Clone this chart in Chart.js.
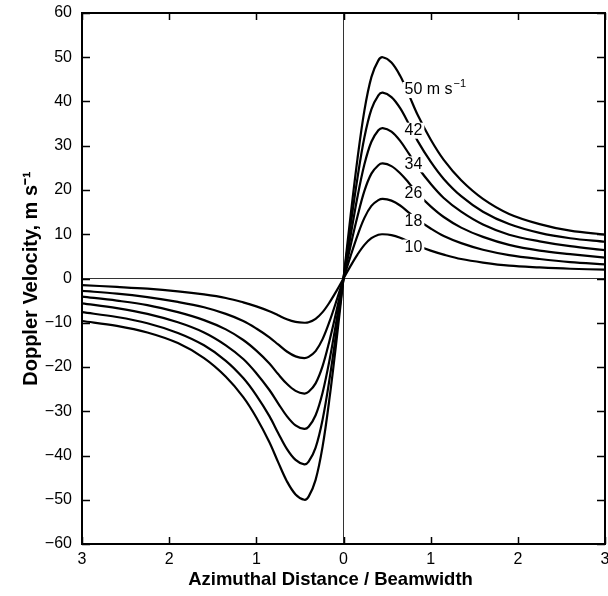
<!DOCTYPE html>
<html>
<head>
<meta charset="utf-8">
<script src="https://cdn.jsdelivr.net/npm/chart.js@4/dist/chart.umd.min.js"></script>
<style>
  html, body { margin: 0; background: #fff; }
</style>
</head>
<body>
<canvas id="chart" width="608" height="596"></canvas>
<script>
// azimuthal distance (beamwidths), same grid for every curve
const xs = [-3, -2.6, -2.25, -1.9, -1.6, -1.35, -1.15, -1, -0.85, -0.75, -0.65, -0.55, -0.45, -0.4, -0.32, -0.24, -0.16, -0.08,
  0, 0.08, 0.16, 0.24, 0.32, 0.4, 0.45, 0.55, 0.65, 0.75, 0.85, 1, 1.15, 1.35, 1.6, 1.9, 2.25, 2.6, 3]

// doppler velocity, one array per curve
const v50 = [-9.6, -10.7, -12.2, -14.6, -18, -22.2, -26.8, -31.4, -37, -41.5, -45.8, -48.8, -50, -49.3, -45.5, -38, -27, -14,
  0, 14, 27, 38, 45.5, 49.3, 50, 48.8, 45.8, 41.5, 37, 31.4, 26.8, 22.2, 18, 14.6, 12.3, 10.8, 9.9]
const v42 = [-7.6, -8.7, -10.1, -12.3, -15.1, -18.6, -22.5, -26.4, -31.1, -34.9, -38.5, -41, -42, -41.4, -38.2, -31.9, -22.7, -11.8,
  0, 11.8, 22.7, 31.9, 38.2, 41.4, 42, 41, 38.5, 34.9, 31.1, 26.4, 22.5, 18.6, 15.1, 12.3, 10.3, 9.1, 8.3]
const v34 = [-5.6, -6.7, -8, -9.9, -12.2, -15.1, -18.2, -21.4, -25.2, -28.2, -31.1, -33.2, -34, -33.5, -30.9, -25.8, -18.4, -9.5,
  0, 9.5, 18.4, 25.8, 30.9, 33.5, 34, 33.2, 31.1, 28.2, 25.2, 21.4, 18.2, 15.1, 12.2, 9.9, 8.4, 7.3, 6.4]
const v26 = [-4.1, -5, -6, -7.6, -9.4, -11.5, -13.9, -16.3, -19.2, -21.6, -23.8, -25.4, -26, -25.6, -23.7, -19.8, -14, -7.3,
  0, 7.3, 14, 19.8, 23.7, 25.6, 26, 25.4, 23.8, 21.6, 19.2, 16.3, 13.9, 11.5, 9.4, 7.6, 6.3, 5.5, 4.7]
const v18 = [-2.8, -3.4, -4.2, -5.3, -6.5, -8, -9.6, -11.3, -13.3, -14.9, -16.5, -17.6, -18, -17.7, -16.4, -13.7, -9.7, -5,
  0, 5, 9.7, 13.7, 16.4, 17.7, 18, 17.6, 16.5, 14.9, 13.3, 11.3, 9.6, 8, 6.5, 5.3, 4.4, 3.7, 3.2]
const v10 = [-1.5, -1.9, -2.3, -2.9, -3.6, -4.4, -5.4, -6.3, -7.4, -8.3, -9.2, -9.8, -10, -9.9, -9.1, -7.6, -5.4, -2.8,
  0, 2.8, 5.4, 7.6, 9.1, 9.9, 10, 9.8, 9.2, 8.3, 7.4, 6.3, 5.4, 4.4, 3.6, 2.9, 2.5, 2.2, 2]

const series = [v50, v42, v34, v26, v18, v10]

// curve labels (text, and where they sit in data units)
const curveLabels = ['50', '42', '34', '26', '18', '10']
const labelX = 0.7
const labelY = [42.6, 33.4, 25.8, 19.1, 12.8, 7.0]

const xTitle = 'Azimuthal Distance / Beamwidth'
const yTitle = 'Doppler Velocity, m s\u207B\u00B9'

const FONT = '"Liberation Sans", Arial, Helvetica, sans-serif'

const minus = v => v < 0 ? '\u2212' + Math.abs(v) : String(v)

// frame on all four sides, ticks pointing in, x title
const framePlugin = {
  id: 'frame',
  afterDraw(chart) {
    const { ctx, chartArea: a, scales: { x, y } } = chart
    ctx.save()
    ctx.strokeStyle = '#000'
    ctx.lineWidth = 1.5
    ctx.beginPath()
    x.ticks.forEach(t => {
      const p = Math.round(x.getPixelForValue(t.value)) + 0.5
      ctx.moveTo(p, a.bottom); ctx.lineTo(p, a.bottom - 7)
      ctx.moveTo(p, a.top); ctx.lineTo(p, a.top + 7)
    })
    y.ticks.forEach(t => {
      const p = Math.round(y.getPixelForValue(t.value)) + 0.5
      ctx.moveTo(a.left, p); ctx.lineTo(a.left + 8, p)
      ctx.moveTo(a.right, p); ctx.lineTo(a.right - 8, p)
    })
    ctx.stroke()
    ctx.lineWidth = 2
    ctx.strokeRect(a.left, a.top, a.right - a.left, a.bottom - a.top)

    // x title sits a little left of the plot centre in the original
    ctx.fillStyle = '#000'
    ctx.font = 'bold 18.5px ' + FONT
    ctx.textAlign = 'center'
    ctx.textBaseline = 'middle'
    ctx.fillText(xTitle, (a.left + a.right) / 2 - 13, a.bottom + 36)
    ctx.restore()
  }
}

// numbers written on the curves, with a white gap behind them
const labelPlugin = {
  id: 'curveLabels',
  afterDatasetsDraw(chart) {
    const { ctx, scales: { x, y } } = chart
    ctx.save()
    ctx.textBaseline = 'middle'
    ctx.textAlign = 'left'
    curveLabels.forEach((txt, i) => {
      const px = x.getPixelForValue(labelX)
      const py = y.getPixelForValue(labelY[i])
      ctx.font = '16px ' + FONT
      let w = ctx.measureText(txt).width
      let unit = i === 0 ? ' m s' : ''
      let uw = unit ? ctx.measureText(unit).width : 0
      ctx.fillStyle = '#fff'
      ctx.fillRect(px - 2, py - 8, w + 4, 16)
      ctx.fillStyle = '#000'
      ctx.fillText(txt, px, py)
      if (unit) {
        ctx.fillText(unit, px + w, py)
        ctx.font = '11px ' + FONT
        ctx.fillText('\u22121', px + w + uw + 1, py - 6)
      }
    })
    ctx.restore()
  }
}

new Chart(document.getElementById('chart'), {
  type: 'line',
  data: {
    datasets: series.map(s => ({
      data: xs.map((x, i) => ({ x: x, y: s[i] })),
      borderColor: '#000',
      borderWidth: 2.2,
      pointRadius: 0,
      fill: false,
      tension: 0.35
    }))
  },
  options: {
    responsive: false,
    animation: false,
    devicePixelRatio: 1,
    layout: { padding: { top: 13, right: 3, bottom: 0, left: 0 } },
    plugins: { legend: { display: false }, tooltip: { enabled: false } },
    scales: {
      x: {
        type: 'linear',
        min: -3, max: 3,
        border: { display: false },
        grid: {
          drawTicks: false,
          color: c => c.tick && c.tick.value === 0 ? '#333' : 'transparent',
          lineWidth: 1
        },
        ticks: {
          stepSize: 1,
          padding: 6,
          color: '#000',
          font: { family: FONT, size: 16 },
          callback: v => String(Math.abs(v))
        },
        afterFit: s => { s.height = 52; s.paddingLeft = 0; s.paddingRight = 0 }
      },
      y: {
        min: -60, max: 60,
        border: { display: false },
        grid: {
          drawTicks: false,
          color: c => c.tick && c.tick.value === 0 ? '#333' : 'transparent',
          lineWidth: 1
        },
        ticks: {
          stepSize: 10,
          padding: 10,
          color: '#000',
          font: { family: FONT, size: 16 },
          callback: v => minus(v)
        },
        title: {
          display: true,
          text: yTitle,
          color: '#000',
          font: { family: FONT, size: 20, weight: 'bold' },
          padding: { top: 19, bottom: 4 }
        },
        afterFit: s => { s.width = 82; s.paddingTop = 0; s.paddingBottom = 0 }
      }
    }
  },
  plugins: [framePlugin, labelPlugin]
})
</script>
</body>
</html>
